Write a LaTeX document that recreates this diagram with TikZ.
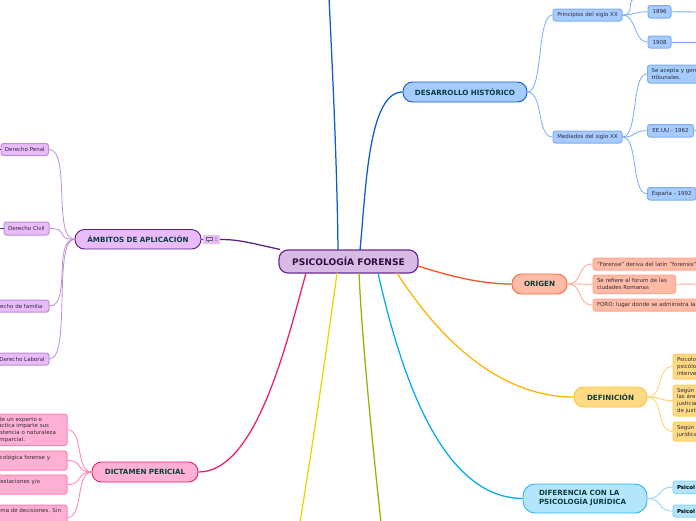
\documentclass[tikz,border=0pt]{standalone}
\usepackage{fontspec}
\setmainfont{DejaVu Sans}
\definecolor{txtB}{HTML}{0B3F3C}
\definecolor{txtL}{HTML}{2C2C3C}
\definecolor{rF}{HTML}{D9BAE5}\definecolor{rD}{HTML}{6B2D90}\definecolor{rT}{HTML}{2C1040}
\definecolor{pF}{HTML}{E9BBFB}\definecolor{pD}{HTML}{BC8FD4}\definecolor{pL}{HTML}{5E1F78}
\definecolor{bF}{HTML}{A6CBFE}\definecolor{bD}{HTML}{7EACF4}\definecolor{bL}{HTML}{0B5CCB}
\definecolor{sF}{HTML}{FFBBA6}\definecolor{sD}{HTML}{FFA68F}\definecolor{sL}{HTML}{F4511E}
\definecolor{yF}{HTML}{FFD983}\definecolor{yD}{HTML}{FFCF66}\definecolor{yL}{HTML}{FFB300}
\definecolor{cF}{HTML}{B3E5FD}\definecolor{cD}{HTML}{8AD4F8}\definecolor{cL}{HTML}{03A9F0}
\definecolor{kF}{HTML}{FFB0D3}\definecolor{kD}{HTML}{FF7FB6}\definecolor{kL}{HTML}{EC1A73}
\definecolor{yeL}{HTML}{E8D800}\definecolor{grL}{HTML}{8DB600}
\tikzset{
 x=1pt,y=-1pt,
 boxbase/.style={draw,inner ysep=0pt,inner xsep=4pt,align=left},
 main/.style={boxbase,rounded corners=9pt,line width=1.2pt,font=\fontsize{9.1}{10}\selectfont\bfseries,text=rT,align=center},
 topic/.style={boxbase,rounded corners=9.5pt,line width=.9pt,font=\fontsize{7.15}{9}\selectfont\bfseries,text=txtB},
 leafb/.style={boxbase,rounded corners=2.5pt,line width=1pt,font=\fontsize{5.5}{6.7}\selectfont,text=txtL},
 leafr/.style={leafb,align=flush right},
 pT/.style={fill=pF,draw=pL},pS/.style={fill=pF,draw=pD},
 bT/.style={fill=bF,draw=bL},bS/.style={fill=bF,draw=bD},
 sT/.style={fill=sF,draw=sL!70!sD},sS/.style={fill=sF,draw=sD},
 yT/.style={fill=yF,draw=yD!60!yL},yS/.style={fill=yF,draw=yD},
 cT/.style={fill=cF,draw=cL!70!cD},cS/.style={fill=cF,draw=cD},
 kT/.style={fill=kF,draw=kL},kS/.style={fill=kF,draw=kD},
 trunk/.style={line width=1.25pt},
 twig/.style={line width=.8pt},
}
\newcommand{\bx}[7]{%
 \pgfmathsetmacro{\cxx}{(#3+#5)/2}\pgfmathsetmacro{\cyy}{(#4+#6)/2}%
 \pgfmathsetmacro{\www}{#5-#3}\pgfmathsetmacro{\hhh}{#6-#4}\pgfmathsetmacro{\ttt}{\www-8}%
 \node[#2,minimum width=\www pt,minimum height=\hhh pt,text width=\ttt pt] (#1) at (\cxx,\cyy) {#7};}
\newcommand{\lk}[4]{\draw[#1] (#2) .. controls +(#4,0) and +(-#4,0) .. (#3);}
\newcommand{\rk}[4]{\draw[#1] (#2) .. controls +(-#4,0) and +(#4,0) .. (#3);}
\newcommand{\rl}[2]{\mbox{#2\hspace{#1pt}}}
\begin{document}
\begin{tikzpicture}
\useasboundingbox (0,0) rectangle (696,520);
\clip (0,0) rectangle (696,520);
\fill[white] (0,0) rectangle (696,520);
% free ends
\coordinate (topEnd) at (329,-2);
\coordinate (yelEnd) at (300,522);
\coordinate (grnEnd) at (381,522);
\coordinate (topStub) at (638,-2);
\coordinate (e1896) at (698,12);
\coordinate (e1908) at (698,42);
\coordinate (eUS) at (698,130.5);
\coordinate (eRef) at (698,284);
\coordinate (lPen) at (-2,149.5);
\coordinate (lCiv) at (-2,228.5);
% main
\bx{root}{main,fill=rF,draw=rD}{279}{250}{418}{273}{PSICOLOGÍA FORENSE}
% topics
\bx{amb}{topic,pT,align=center}{75}{229.5}{201}{249}{ÁMBITOS DE APLICACIÓN}
\bx{dic}{topic,kT,align=center}{92}{462}{198}{482}{DICTAMEN PERICIAL}
\bx{des}{topic,bT,align=center}{403}{82}{527}{102}{DESARROLLO HISTÓRICO}
\bx{ori}{topic,sT,align=center}{512}{274}{567}{294}{ORIGEN}
\bx{def}{topic,yT,align=center}{574}{387}{647}{407}{DEFINICIÓN}
\node[topic,cT,rounded corners=12pt,minimum width=124pt,minimum height=29pt,text width=92pt,inner xsep=16pt] (dif) at (585,498.5) {DIFERENCIA CON LA\\PSICOLOGÍA JURÍDICA};
% tag
\node[fill=pF,inner sep=0pt,rounded corners=1pt,minimum width=17pt,minimum height=9pt,text=black!55,font=\fontsize{5.2}{6}\selectfont,anchor=center] (tag) at (211.5,239.5) {\hspace*{9pt}1};
\draw[black!60,line width=.7pt] (206.5,237.5) rectangle (212,240.5) (208,240.5) -- (208,242);
% leaves
\bx{pen}{leafb,pS,align=center}{1}{143.5}{48.5}{155.5}{\mbox{Derecho Penal}}
\bx{civ}{leafb,pS,align=center}{4}{222}{49}{235}{\mbox{Derecho Civil}}
\bx{fam}{leafb,pS,align=center}{-16}{300}{49}{312}{Derecho de familia}
\bx{lab}{leafb,pS,align=center}{-5}{353}{49}{365}{Derecho Laboral}
\bx{d1}{leafr,kS}{-40}{414}{67}{445.5}{\rl{21}{de un experto o}\\\rl{14}{práctica imparte sus}\\\rl{7}{existencia o naturaleza}\\\rl{38}{imparcial.}}
\bx{d2}{leafr,kS}{-40}{451}{67}{470}{\rl{13}{psicológica forense y}\\\mbox{}}
\bx{d3}{leafr,kS}{-40}{475}{67}{494}{\rl{23}{manifestaciones y/o}\\\mbox{}}
\bx{d4}{leafr,kS}{-40}{505}{67}{530}{\rl{2}{sistema de decisiones. Sin}\\\mbox{}\\\mbox{}}
\bx{pri}{leafb,bS,align=center}{553}{9}{622}{21}{Principios del siglo XX}
\bx{a96}{leafb,bS,align=center}{648}{5.5}{671}{18}{1896}
\bx{a08}{leafb,bS,align=center}{648}{36}{671}{48}{1908}
\bx{med}{leafb,bS,align=center}{553}{131}{622}{143}{Mediados del siglo XX}
\bx{ace}{leafb,bS}{647.5}{65}{760}{83}{Se acepta y gen\\tribunales.}
\bx{eeu}{leafb,bS,align=center}{647.5}{124.5}{693.5}{137}{EE.UU - 1962}
\bx{esp}{leafb,bS,align=center}{647.5}{187.5}{696}{200}{España - 1992}
\bx{o1}{leafb,sS}{593}{258}{760}{270}{"Forense" deriva del latín "forensis"}
\bx{o2}{leafb,sS}{593}{275}{675.5}{293.5}{Se refiere al forum de las\\ciudades Romanas}
\bx{o3}{leafb,sS}{593}{299}{760}{311}{FORO: lugar donde se administra la}
\bx{f1}{leafb,yS}{673}{354}{760}{379}{Psicolo\\psicólo\\interve}
\bx{f2}{leafb,yS}{673}{385}{760}{416}{Según\\las áre\\justicia\\de just}
\bx{f3}{leafb,yS}{673}{422}{760}{441}{Según\\jurídica}
\bx{j1}{leafb,cS,font=\fontsize{5.5}{6.7}\selectfont\bfseries,text=black}{673}{481}{760}{493.5}{Psicol}
\bx{j2}{leafb,cS,font=\fontsize{5.5}{6.7}\selectfont\bfseries,text=black}{673}{505}{760}{517}{Psicol}
% trunks
\draw[trunk,bL] (338,250) .. controls (337,160) and (332,60) .. (topEnd);
\draw[trunk,bL] (360,250) .. controls (366,190) and (368,92) .. (des.west);
\draw[trunk,pL] (root.170) .. controls (250,243) and (240,239.5) .. (tag.east);
\draw[trunk,pL] (tag.west) -- (amb.east);
\draw[trunk,kL] (306,273) .. controls (285,350) and (255,472) .. (dic.east);
\draw[trunk,yeL] (337,273) .. controls (328,340) and (312,450) .. (yelEnd);
\draw[trunk,grL] (359,273) .. controls (362,340) and (373,450) .. (grnEnd);
\draw[trunk,cL] (378,273) .. controls (400,370) and (440,498) .. (dif.west);
\draw[trunk,yL] (397,273) .. controls (440,340) and (500,397) .. (def.west);
\draw[trunk,sL] (418,266) .. controls (450,276) and (480,284) .. (ori.west);
% twigs
\foreach \k in {pen,civ,fam,lab} {\rk{twig,pD}{amb.west}{\k.east}{22}}
\foreach \k in {d1,d2,d3,d4} {\rk{twig,kD}{dic.west}{\k.east}{16}}
\foreach \k in {pri,med} {\lk{twig,bD}{des.east}{\k.west}{16}}
\foreach \k in {a96,a08} {\lk{twig,bD}{pri.east}{\k.west}{14}}
\lk{twig,bD}{pri.east}{topStub}{14}
\foreach \k in {ace,eeu,esp} {\lk{twig,bD}{med.east}{\k.west}{16}}
\foreach \k in {o1,o2,o3} {\lk{twig,sD}{ori.east}{\k.west}{16}}
\foreach \k in {f1,f2,f3} {\lk{twig,yD}{def.east}{\k.west}{16}}
\foreach \k in {j1,j2} {\lk{twig,cD}{dif.east}{\k.west}{16}}
\draw[line width=.9pt,bD] (a96.east) -- (e1896);
\draw[line width=.9pt,bD] (a08.east) -- (e1908);
\draw[line width=.9pt,bD] (eeu.east) -- (eUS);
\draw[line width=.9pt,sD] (o2.east) -- (eRef);
\draw[line width=.9pt,pL] (civ.west) -- (lCiv);
\draw[line width=.9pt,pL] (pen.west) -- (lPen);
\end{tikzpicture}
\end{document}
